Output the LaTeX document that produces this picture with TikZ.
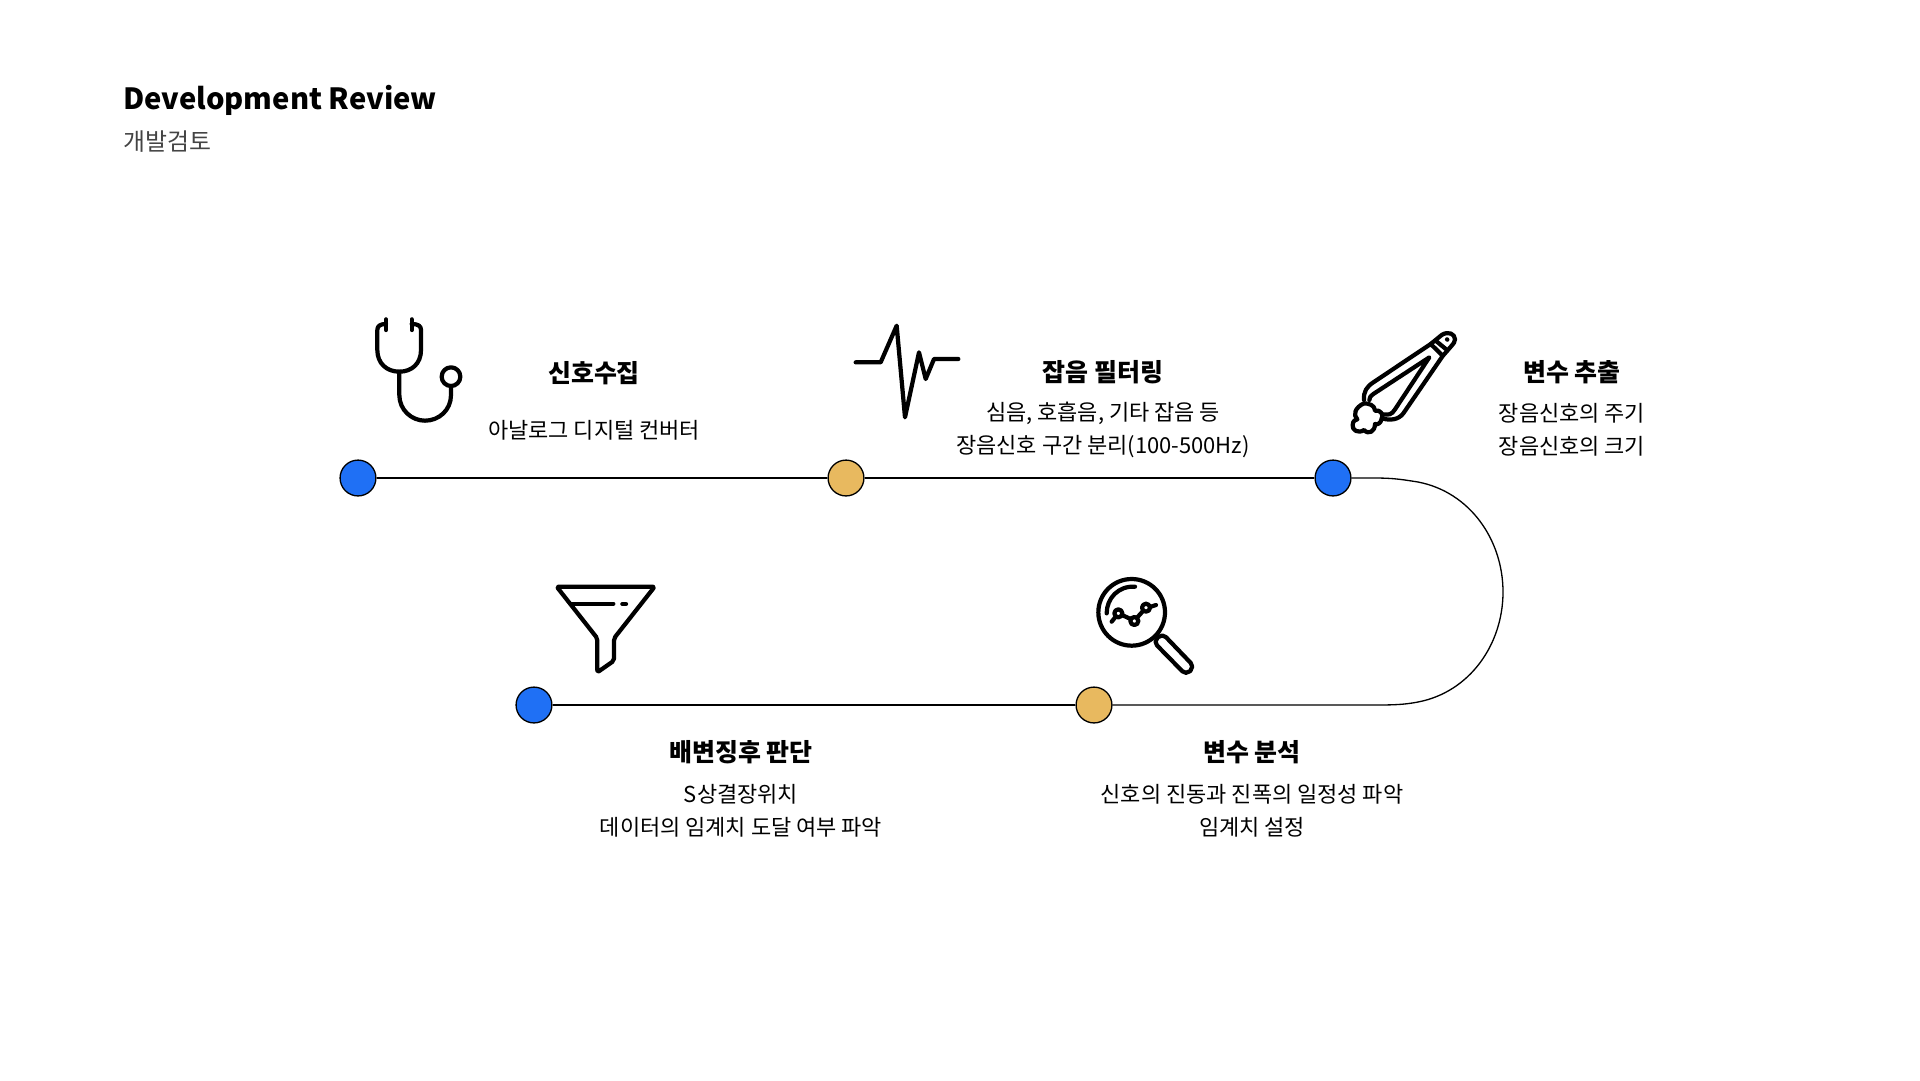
\documentclass[tikz,border=0pt]{standalone}
\usepackage{fontspec}
\setmainfont{Noto Sans CJK KR}
\definecolor{dotblue}{HTML}{1F70F5}
\definecolor{dotgold}{HTML}{E8B95F}
\definecolor{subgray}{HTML}{444444}
\tikzset{
  dotnode/.style={circle,draw=black,line width=0.75pt,minimum size=36*0.5669pt,inner sep=0pt},
  headnode/.style={font=\fontsize{14.2}{16}\selectfont\bfseries,text=black,inner sep=0pt},
  bodynode/.style={font=\fontsize{12.5}{18.7}\selectfont,align=center,text=black,inner sep=0pt},
  iconline/.style={line width=2.4pt,line cap=round,line join=round,black},
  iconzoom/.style={xscale=1/3,yscale=1/3}
}
\begin{document}
\begin{tikzpicture}[x=0.02cm,y=-0.02cm]
  \useasboundingbox (0,0) rectangle (1920,1080);

  \node[anchor=west,inner sep=0pt,font=\fontsize{16.6}{20}\selectfont\bfseries] (title) at (123,100.5) {Development Review};
  \node[anchor=west,inner sep=0pt,font=\fontsize{13.6}{16}\selectfont,text=subgray] (subtitle) at (123,142) {개발검토};

  \node[dotnode,fill=dotblue] (dotcollect) at (358,478) {};
  \node[dotnode,fill=dotgold] (dotfilter) at (846,478) {};
  \node[dotnode,fill=dotblue] (dotextract) at (1333,478) {};
  \node[dotnode,fill=dotgold] (dotanalyze) at (1094,705) {};
  \node[dotnode,fill=dotblue] (dotjudge) at (534,705) {};

  \draw[line width=0.75pt] (dotcollect) -- (dotfilter);
  \draw[line width=0.75pt] (dotfilter) -- (dotextract);
  \draw[line width=0.75pt] (dotextract.east) -- (1375,478)
    .. controls (1395,478) and (1405,480) .. (1418,482)
    .. controls (1470,492) and (1503,540) .. (1503,592)
    .. controls (1503,644) and (1470,692) .. (1418,702)
    .. controls (1405,704.5) and (1395,705) .. (1375,705) -- (dotanalyze.east);
  \draw[line width=0.75pt] (dotanalyze) -- (dotjudge);

  \node[headnode] (headcollect) at (594,373) {신호수집};
  \node[bodynode] (bodycollect) at (594,430) {아날로그 디지털 컨버터};
  \node[headnode] (headfilter) at (1103,372) {잡음 필터링};
  \node[bodynode] (bodyfilter) at (1103,430) {심음, 호흡음, 기타 잡음 등\\장음신호 구간 분리(100-500Hz)};
  \node[headnode] (headextract) at (1572,372) {변수 추출};
  \node[bodynode] (bodyextract) at (1572,430) {장음신호의 주기\\장음신호의 크기};
  \node[headnode] (headjudge) at (741,752) {배변징후 판단};
  \node[bodynode] (bodyjudge) at (741,810.5) {S상결장위치\\데이터의 임계치 도달 여부 파악};
  \node[headnode] (headanalyze) at (1252,752) {변수 분석};
  \node[bodynode] (bodyanalyze) at (1252,810.5) {신호의 진동과 진폭의 일정성 파악\\임계치 설정};

  % stethoscope
  \begin{scope}[shift={(340,300)},iconzoom]
    \draw[iconline] (138,58) -- (138,90);
    \draw[iconline] (215,58) -- (215,90);
    \draw[iconline] (138,72) .. controls (120,72) and (112,78) .. (112,90) -- (112,150)
      .. controls (112,190) and (140,215) .. (178,215)
      .. controls (216,215) and (243,190) .. (243,150) -- (243,90)
      .. controls (243,78) and (235,72) .. (215,72);
    \draw[iconline] (178,215) -- (178,285)
      .. controls (178,330) and (215,362) .. (255,362)
      .. controls (297,362) and (333,330) .. (333,285) -- (333,258);
    \draw[iconline] (333,230) circle (28);
  \end{scope}

  % pulse
  \begin{scope}[shift={(840,310)},iconzoom]
    \draw[iconline] (47,157) -- (122,157) -- (170,47) -- (195,322) -- (237,127) -- (257,207) -- (282,147) -- (355,147);
  \end{scope}

  % pen with stool
  \begin{scope}[shift={(1340,320)},iconzoom]
    \draw[iconline] (72,240) .. controls (70,215) and (80,200) .. (100,187) -- (272,72) -- (305,45)
      .. controls (325,32) and (345,42) .. (345,58) .. controls (345,65) and (340,72) .. (335,77) -- (308,108)
      -- (190,280) .. controls (175,300) and (150,302) .. (125,295);
    \draw[iconline] (88,240) .. controls (88,232) and (92,227) .. (100,222) -- (268,112) -- (165,268)
      .. controls (155,285) and (145,285) .. (130,283);
    \draw[iconline] (272,72) -- (308,107);
    \draw[iconline] (287,62) -- (321,90);
    \draw[iconline] (321,58) -- (322,59);
    \draw[iconline] (72,250) .. controls (85,250) and (105,255) .. (105,272)
      .. controls (122,268) and (132,285) .. (125,297)
      .. controls (122,310) and (112,315) .. (105,312)
      .. controls (105,335) and (85,345) .. (72,330)
      .. controls (55,342) and (35,330) .. (38,315)
      .. controls (38,302) and (48,298) .. (52,298)
      .. controls (38,285) and (45,262) .. (72,250);
  \end{scope}

  % funnel
  \begin{scope}[shift={(540,570)},iconzoom]
    \draw[iconline,rounded corners=1.2pt] (50,50) -- (344,50) -- (222,205) -- (222,272) -- (172,307) -- (172,205) -- cycle;
    \draw[iconline] (92,101) -- (220,101);
    \draw[iconline] (247,102) -- (258,102);
  \end{scope}

  % magnifier
  \begin{scope}[shift={(1085,565)},iconzoom]
    \draw[iconline] (140,142) circle (100);
    \draw[iconline] (65,145) .. controls (65,100) and (100,62) .. (150,65);
    \draw[iconline] (100,145) circle (12);
    \draw[iconline] (148,168) circle (12);
    \draw[iconline] (183,128) circle (12);
    \draw[iconline] (80,170) -- (92,155);
    \draw[iconline] (111,150) -- (137,162);
    \draw[iconline] (157,157) -- (174,138);
    \draw[iconline] (195,126) -- (213,120);
    \draw[iconline,rounded corners=3pt] (205,230) -- (232,205) -- (328,305) -- (303,330) -- cycle;
  \end{scope}
\end{tikzpicture}
\end{document}
